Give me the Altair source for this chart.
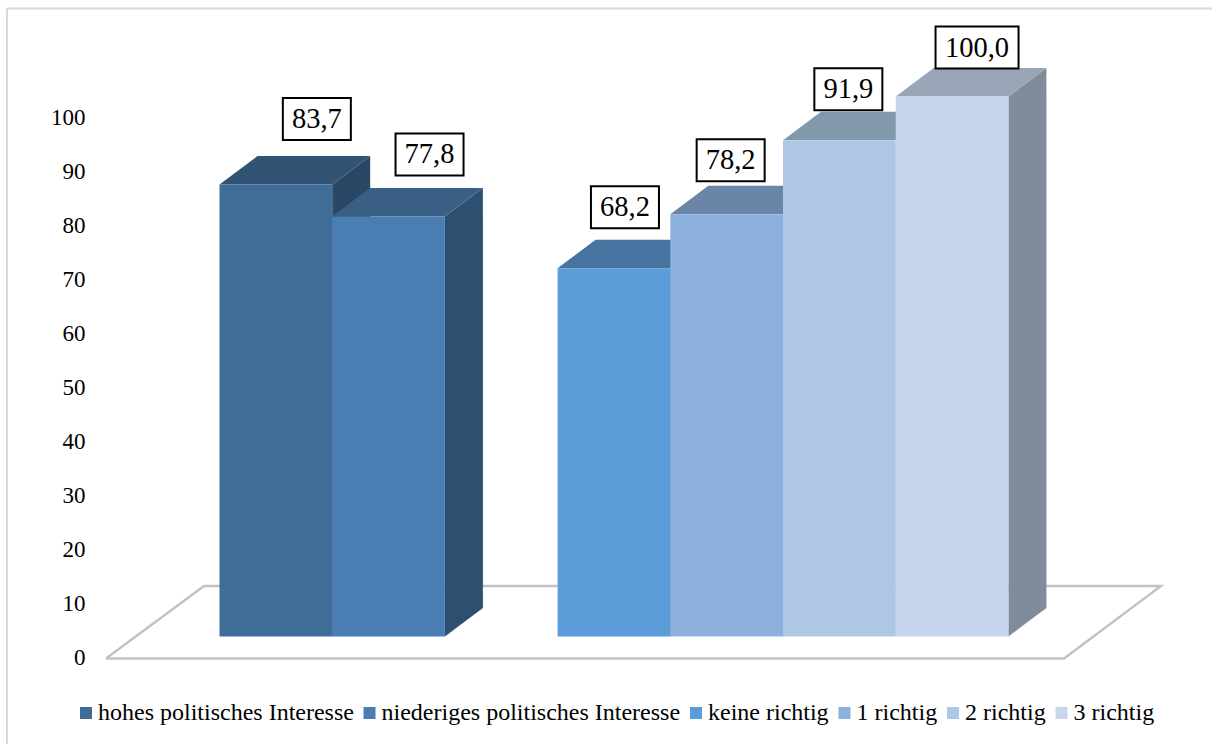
import altair as alt
import pandas as pd

# Series
categories = ["hohes politisches Interesse", "niederiges politisches Interesse",
              "keine richtig", "1 richtig", "2 richtig", "3 richtig"]
values = [83.7, 77.8, 68.2, 78.2, 91.9, 100.0]
slots = [0, 1, 3, 4, 5, 6]
axis_ticks = list(range(0, 101, 10))

# Face colours of each column
front_colors = ["#3F6D98", "#4A7DB1", "#5B9BD7", "#8CB1DC", "#ADC7E5", "#C6D6ED"]
top_colors = ["#315475", "#3A5F85", "#44749F", "#6B85A9", "#8298AD", "#98A6B8"]
side_colors = ["#2A4866", "#2D5070", "#3A6490", "#5A7190", "#72879F", "#828B9A"]

# Drawing geometry
W, H = 1212, 744
X0, SLOT = 219.5, 112.7        # pixel of slot 0, pixels per slot
BASE, UNIT = 636.5, 5.4        # pixel of value 0 at the front, pixels per unit
TICK_BASE = 657.5              # pixel of axis label 0
DEPTH_X, DEPTH_Y = 38 / SLOT, 28.5 / UNIT
FONT = "Liberation Serif"


def sx(px):
    return (px - X0) / SLOT


def vy(py):
    return (BASE - py) / UNIT


x_scale = alt.Scale(domain=[sx(0), sx(W)], nice=False, zero=False)
y_scale = alt.Scale(domain=[vy(H), vy(0)], nice=False, zero=False)
tick_scale = alt.Scale(domain=[(TICK_BASE - H) / UNIT, TICK_BASE / UNIT], nice=False, zero=False)

X = alt.X("x:Q", scale=x_scale, axis=None)
Y = alt.Y("y:Q", scale=y_scale, axis=None, stack=None)

# Floor of the 3D scene
floor = pd.DataFrame({
    "x": [sx(106), sx(204), sx(1161), sx(1064), sx(106)],
    "y": [vy(658.5), vy(586), vy(586), vy(658.5), vy(658.5)],
    "i": list(range(5)),
})
floor_layer = alt.Chart(floor).mark_line(color="#C2C2C2", strokeWidth=2.4).encode(
    x=X, y=Y, order="i:O"
)

# Side, top and front faces
side_rows, top_rows, front_rows = [], [], []
for s, v, fc, tc, dc, cat in zip(slots, values, front_colors, top_colors, side_colors, categories):
    side_rows += [
        {"x": s + 1, "y": 0, "y2": v, "c": dc},
        {"x": s + 1 + DEPTH_X, "y": DEPTH_Y, "y2": v + DEPTH_Y, "c": dc},
    ]
    top_rows += [
        {"x": s, "x2": s + 1, "y": v, "c": tc},
        {"x": s + DEPTH_X, "x2": s + 1 + DEPTH_X, "y": v + DEPTH_Y, "c": tc},
    ]
    front_rows.append({"x": s, "x2": s + 1, "y": 0, "y2": v, "cat": cat})

side_layer = alt.Chart(pd.DataFrame(side_rows)).mark_area(orient="vertical").encode(
    x=X, y=Y, y2="y2:Q", color=alt.Color("c:N", scale=None, legend=None)
)
top_layer = alt.Chart(pd.DataFrame(top_rows)).mark_area(orient="horizontal").encode(
    x=alt.X("x:Q", scale=x_scale, axis=None, stack=None), x2="x2:Q",
    y=alt.Y("y:Q", scale=y_scale, axis=None),
    color=alt.Color("c:N", scale=None, legend=None),
)
front_layer = alt.Chart(pd.DataFrame(front_rows)).mark_rect().encode(
    x=X, x2="x2:Q", y=Y, y2="y2:Q",
    color=alt.Color(
        "cat:N",
        scale=alt.Scale(domain=categories, range=front_colors),
        sort=categories,
        legend=alt.Legend(
            title=None, orient="none", legendX=74, legendY=701, direction="horizontal",
            columns=6, symbolType="square", symbolSize=144, symbolStrokeWidth=0,
            labelFont=FONT, labelFontSize=24, labelColor="#000000", labelLimit=500,
            labelOffset=0, columnPadding=3.5,
        ),
    ),
)

# Boxed value labels
label_dx = [41, 41, 11, 4, 9, 25]
label_dy = [65.5, 62, 61, 54, 51, 49]
label_rows = []
for s, v, dx, dy in zip(slots, values, label_dx, label_dy):
    text = f"{v:.1f}".replace(".", ",")
    half = 41.5 if len(text) > 4 else 34
    cx = X0 + (s + 0.5) * SLOT + dx
    cy = BASE - v * UNIT - dy
    label_rows.append({
        "x": sx(cx - half), "x2": sx(cx + half), "cx": sx(cx),
        "y": vy(cy + 21), "y2": vy(cy - 21), "cy": vy(cy), "t": text,
    })
labels = pd.DataFrame(label_rows)
box_layer = alt.Chart(labels).mark_rect(fill="white", stroke="black", strokeWidth=2).encode(
    x=X, x2="x2:Q", y=Y, y2="y2:Q"
)
text_layer = alt.Chart(labels).mark_text(font=FONT, fontSize=28.5, color="black", baseline="middle").encode(
    x=alt.X("cx:Q", scale=x_scale, axis=None),
    y=alt.Y("cy:Q", scale=y_scale, axis=None),
    text="t:N",
)

# Value axis, carried by an invisible layer on its own scale
axis_layer = alt.Chart(pd.DataFrame({"t": axis_ticks})).mark_point(opacity=0).encode(
    y=alt.Y(
        "t:Q", scale=tick_scale,
        axis=alt.Axis(
            values=axis_ticks, title=None, domain=False, ticks=False, grid=False,
            labelFont=FONT, labelFontSize=23, labelColor="#000000", labelPadding=0,
            labelOverlap=False, offset=-85, format="d",
        ),
    )
)

# Chart frame: only its left and top edges show
frame_left = alt.Chart(pd.DataFrame({"a": [0]})).mark_rule(color="#D9D9D9", strokeWidth=2).encode(
    x=alt.value(7), y=alt.value(8.5), y2=alt.value(H)
)
frame_top = alt.Chart(pd.DataFrame({"a": [0]})).mark_rule(color="#D9D9D9", strokeWidth=2).encode(
    x=alt.value(7), x2=alt.value(W), y=alt.value(8.5)
)

chart = (
    alt.layer(frame_left, frame_top, floor_layer, side_layer, top_layer, front_layer,
              box_layer, text_layer, axis_layer)
    .resolve_scale(y="independent", color="independent")
    .properties(
        width=W, height=H, padding=0, background="white",
        autosize=alt.AutoSizeParams(type="none", contains="padding"),
    )
    .configure_view(stroke=None)
)

chart.save("out.html", embed_options={"renderer": "svg", "actions": False})
